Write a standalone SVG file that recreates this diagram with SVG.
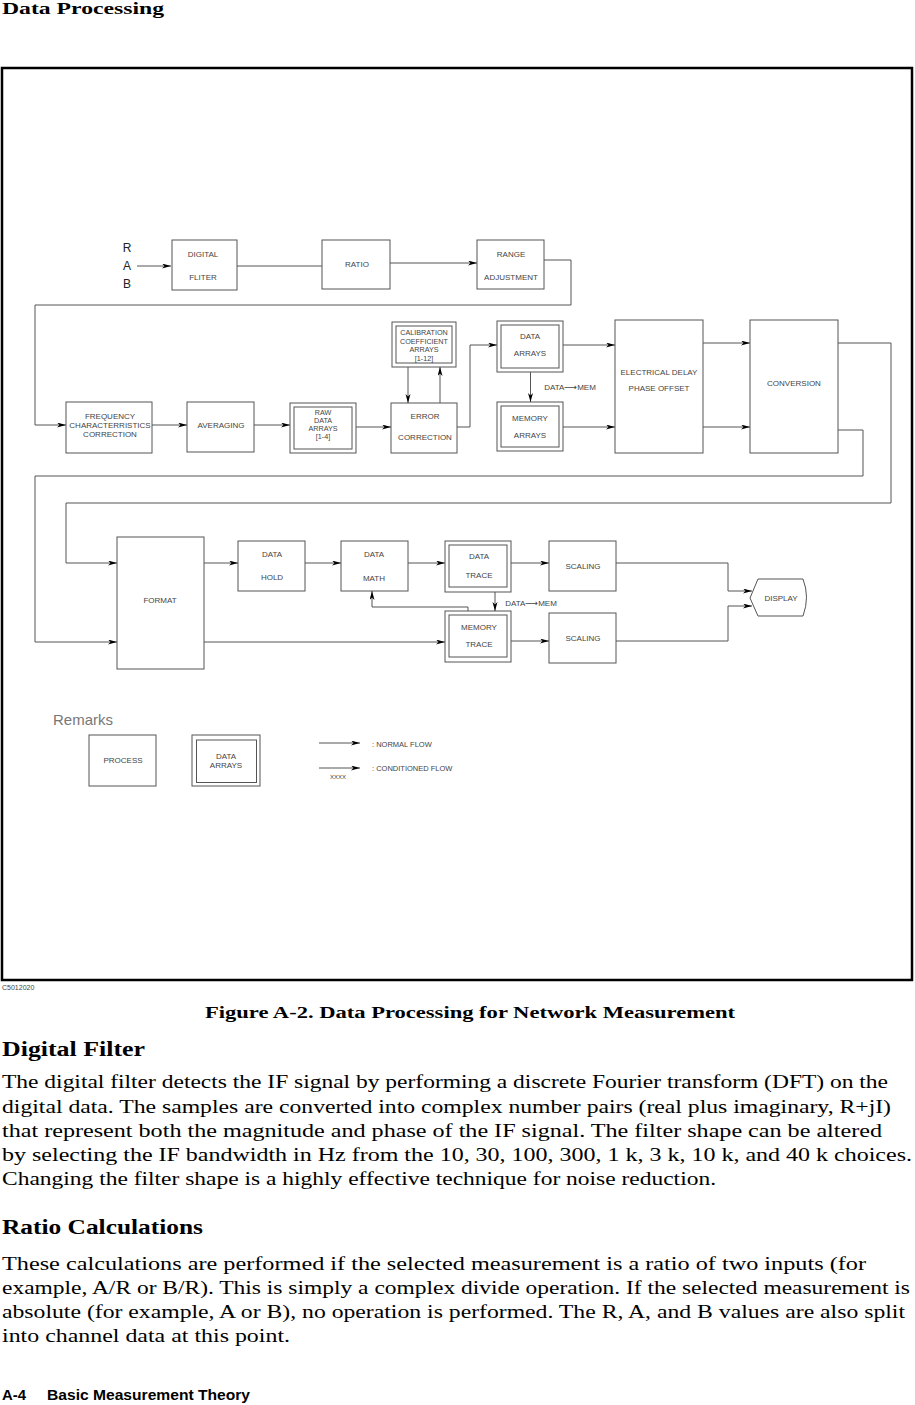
<svg xmlns="http://www.w3.org/2000/svg" width="915" height="1405" viewBox="0 0 915 1405">
<defs>
<marker id="ah" markerUnits="userSpaceOnUse" markerWidth="10" markerHeight="6" refX="9" refY="2.5" orient="auto">
<path d="M0,0 L9,2.5 L0,5 L2.5,2.5 z" fill="#000"/>
</marker>
</defs>
<style>
.b{fill:#fff;stroke:#555;stroke-width:1}
.t{font-family:"Liberation Sans",Arial,sans-serif;font-size:8px;fill:#444;text-anchor:middle}
.s{font-size:7.2px}
.c{fill:none;stroke:#555;stroke-width:1}
.a{marker-end:url(#ah)}
.p{font-family:"Liberation Serif","Times New Roman",serif;font-size:18px;fill:#000}
.h{font-family:"Liberation Serif","Times New Roman",serif;font-weight:bold;fill:#000}
.r{font-family:"Liberation Sans",Arial,sans-serif;font-size:12px;fill:#222;text-anchor:middle}
</style>
<rect width="915" height="1405" fill="#fff"/>
<text class="h" x="2" y="14" font-size="17" textLength="162" lengthAdjust="spacingAndGlyphs">Data Processing</text>
<rect x="2" y="68" width="910" height="912" fill="none" stroke="#000" stroke-width="2.5"/>

<g id="rab">
<text class="r" x="127" y="252">R</text>
<text class="r" x="127" y="270">A</text>
<text class="r" x="127" y="288">B</text>
</g>
<g id="digital-filter"><rect class="b" x="172" y="240" width="65" height="50"/><text class="t" x="203" y="257">DIGITAL</text><text class="t" x="203" y="280">FLITER</text></g>
<g id="ratio"><rect class="b" x="322" y="240" width="68" height="49"/><text class="t" x="357" y="267">RATIO</text></g>
<g id="range"><rect class="b" x="477" y="240" width="67" height="49"/><text class="t" x="511" y="257">RANGE</text><text class="t" x="511" y="280">ADJUSTMENT</text></g>

<g id="freq"><rect class="b" x="66" y="402" width="86" height="51"/><text class="t" x="110" y="419">FREQUENCY</text><text class="t" x="110" y="428">CHARACTERRISTICS</text><text class="t" x="110" y="437">CORRECTION</text></g>
<g id="averaging"><rect class="b" x="187" y="402" width="67" height="50"/><text class="t" x="221" y="428">AVERAGING</text></g>
<g id="raw"><rect class="b" x="290" y="403" width="66" height="50"/><rect class="b" x="294" y="407" width="58" height="42"/><text class="t s" x="323" y="415">RAW</text><text class="t s" x="323" y="423">DATA</text><text class="t s" x="323" y="431">ARRAYS</text><text class="t s" x="323" y="439">[1-4]</text></g>
<g id="calib"><rect class="b" x="392" y="322" width="64" height="45"/><rect class="b" x="396" y="326" width="56" height="37"/><text class="t s" x="424" y="335">CALIBRATION</text><text class="t s" x="424" y="343.5">COEFFICIENT</text><text class="t s" x="424" y="352">ARRAYS</text><text class="t s" x="424" y="361">[1-12]</text></g>
<g id="error"><rect class="b" x="391" y="403" width="66" height="50"/><text class="t" x="425" y="419">ERROR</text><text class="t" x="425" y="440">CORRECTION</text></g>
<g id="data-arrays"><rect class="b" x="497" y="321" width="66" height="51"/><rect class="b" x="501" y="325" width="58" height="43"/><text class="t" x="530" y="339">DATA</text><text class="t" x="530" y="356">ARRAYS</text></g>
<g id="memory-arrays"><rect class="b" x="497" y="402" width="66" height="49"/><rect class="b" x="501" y="406" width="58" height="41"/><text class="t" x="530" y="421">MEMORY</text><text class="t" x="530" y="438">ARRAYS</text></g>
<text class="t" x="570" y="390">DATA<tspan font-family="DejaVu Sans,sans-serif" font-size="9">⟶</tspan>MEM</text>
<g id="electrical"><rect class="b" x="615" y="320" width="88" height="133"/><text class="t" x="659" y="375">ELECTRICAL DELAY</text><text class="t" x="659" y="391">PHASE OFFSET</text></g>
<g id="conversion"><rect class="b" x="750" y="320" width="88" height="133"/><text class="t" x="794" y="386">CONVERSION</text></g>

<g id="format"><rect class="b" x="117" y="537" width="87" height="132"/><text class="t" x="160" y="603">FORMAT</text></g>
<g id="data-hold"><rect class="b" x="238" y="541" width="67" height="50"/><text class="t" x="272" y="557">DATA</text><text class="t" x="272" y="580">HOLD</text></g>
<g id="data-math"><rect class="b" x="341" y="541" width="67" height="50"/><text class="t" x="374" y="557">DATA</text><text class="t" x="374" y="581">MATH</text></g>
<g id="data-trace"><rect class="b" x="445" y="541" width="66" height="51"/><rect class="b" x="449" y="545" width="58" height="42"/><text class="t" x="479" y="559">DATA</text><text class="t" x="479" y="578">TRACE</text></g>
<g id="memory-trace"><rect class="b" x="445" y="611" width="66" height="51"/><rect class="b" x="449" y="615" width="58" height="42"/><text class="t" x="479" y="630">MEMORY</text><text class="t" x="479" y="647">TRACE</text></g>
<text class="t" x="531" y="606">DATA<tspan font-family="DejaVu Sans,sans-serif" font-size="9">⟶</tspan>MEM</text>
<g id="scaling1"><rect class="b" x="549" y="541" width="67" height="50"/><text class="t" x="583" y="569">SCALING</text></g>
<g id="scaling2"><rect class="b" x="549" y="613" width="67" height="50"/><text class="t" x="583" y="641">SCALING</text></g>
<g id="display"><path class="b" d="M758,579 L803,579 Q810,597 803,616 L758,616 L750,598 Z"/><text class="t" x="781" y="601">DISPLAY</text></g>

<g id="connectors">
<path class="c a" d="M137,266 H171"/>
<path class="c" d="M237,266 H322"/>
<path class="c a" d="M390,263 H477"/>
<path class="c a" d="M544,260 H571 V305 H35 V425 H66"/>
<path class="c a" d="M152,425 H187"/>
<path class="c a" d="M254,425 H290"/>
<path class="c a" d="M356,427 H391"/>
<path class="c a" d="M408,367 V403"/>
<path class="c a" d="M440,403 V367"/>
<path class="c a" d="M457,427 H470 V345 H497"/>
<path class="c a" d="M530.5,372 V402"/>
<path class="c a" d="M563,345 H615"/>
<path class="c a" d="M563,427 H615"/>
<path class="c a" d="M703,343 H750"/>
<path class="c a" d="M703,427 H750"/>
<path class="c a" d="M838,343 H891 V503 H66 V563 H117"/>
<path class="c a" d="M838,430 H863 V476 H35 V642 H117"/>
<path class="c a" d="M204,563 H238"/>
<path class="c a" d="M305,563 H341"/>
<path class="c a" d="M408,563 H445"/>
<path class="c a" d="M511,563 H549"/>
<path class="c a" d="M495,592 V611"/>
<path class="c a" d="M468,611 V607 H372 V591"/>
<path class="c a" d="M204,642 H445"/>
<path class="c a" d="M511,641 H549"/>
<path class="c a" d="M616,563 H728 V591 H752"/>
<path class="c a" d="M616,641 H728 V606 H752"/>
</g>

<g id="remarks">
<text x="53" y="725" font-family="Liberation Sans,Arial,sans-serif" font-size="15" fill="#777">Remarks</text>
<rect class="b" x="89" y="735" width="67" height="51"/><text class="t" x="123" y="763">PROCESS</text>
<rect class="b" x="192" y="735" width="68" height="51"/><rect class="b" x="196.5" y="740" width="60" height="42.5"/><text class="t" x="226" y="759">DATA</text><text class="t" x="226" y="768">ARRAYS</text>
<path class="c a" d="M319,743 H360"/>
<text x="372" y="747" font-family="Liberation Sans,Arial,sans-serif" font-size="7.5" fill="#444">: NORMAL FLOW</text>
<path class="c a" d="M319,768 H360"/>
<text x="338" y="779" font-family="Liberation Sans,Arial,sans-serif" font-size="6" fill="#444" text-anchor="middle">XXXX</text>
<text x="372" y="771" font-family="Liberation Sans,Arial,sans-serif" font-size="7.5" fill="#444">: CONDITIONED FLOW</text>
</g>

<text x="2" y="990" font-family="Liberation Sans,Arial,sans-serif" font-size="7" fill="#444">C5012020</text>
<text class="h" x="205" y="1018" font-size="17" textLength="530" lengthAdjust="spacingAndGlyphs">Figure A-2. Data Processing for Network Measurement</text>
<text class="h" x="2" y="1056" font-size="20" textLength="143" lengthAdjust="spacingAndGlyphs">Digital Filter</text>
<text class="p" x="2" y="1088" textLength="886" lengthAdjust="spacingAndGlyphs">The digital filter detects the IF signal by performing a discrete Fourier transform (DFT) on the</text>
<text class="p" x="2" y="1113" textLength="889" lengthAdjust="spacingAndGlyphs">digital data.  The samples are converted into complex number pairs (real plus imaginary, R+jI)</text>
<text class="p" x="2" y="1137" textLength="880" lengthAdjust="spacingAndGlyphs">that represent both the magnitude and phase of the IF signal.  The filter shape can be altered</text>
<text class="p" x="2" y="1161" textLength="910" lengthAdjust="spacingAndGlyphs">by selecting the IF bandwidth in Hz from the 10, 30, 100, 300, 1 k, 3 k, 10 k, and 40 k choices.</text>
<text class="p" x="2" y="1185" textLength="714" lengthAdjust="spacingAndGlyphs">Changing the filter shape is a highly effective technique for noise reduction.</text>
<text class="h" x="2" y="1234" font-size="20" textLength="201" lengthAdjust="spacingAndGlyphs">Ratio Calculations</text>
<text class="p" x="2" y="1270" textLength="864" lengthAdjust="spacingAndGlyphs">These calculations are performed if the selected measurement is a ratio of two inputs (for</text>
<text class="p" x="2" y="1294" textLength="908" lengthAdjust="spacingAndGlyphs">example, A/R or B/R). This is simply a complex divide operation.  If the selected measurement is</text>
<text class="p" x="2" y="1318" textLength="903" lengthAdjust="spacingAndGlyphs">absolute (for example, A or B), no operation is performed.  The R, A, and B values are also split</text>
<text class="p" x="2" y="1342" textLength="288" lengthAdjust="spacingAndGlyphs">into channel data at this point.</text>
<text x="2" y="1400" font-family="Liberation Sans,Arial,sans-serif" font-size="15" font-weight="bold" textLength="24" lengthAdjust="spacingAndGlyphs">A-4</text>
<text x="47" y="1400" font-family="Liberation Sans,Arial,sans-serif" font-size="15" font-weight="bold" textLength="203" lengthAdjust="spacingAndGlyphs">Basic Measurement Theory</text>
</svg>
